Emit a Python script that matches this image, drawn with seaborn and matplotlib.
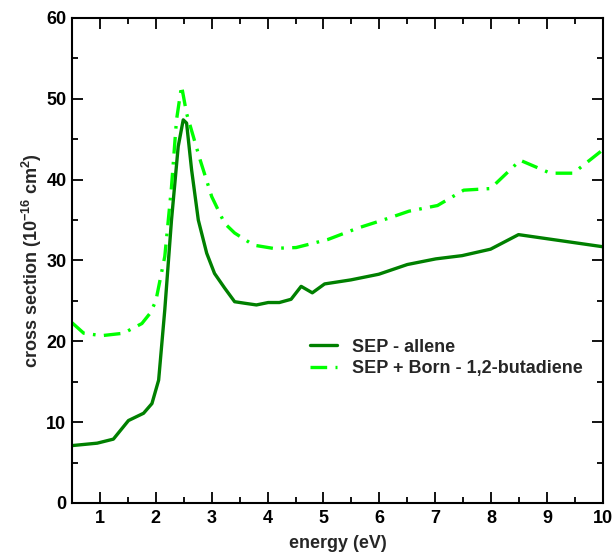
import matplotlib
matplotlib.use("Agg")
import matplotlib.pyplot as plt
import seaborn as sns
import pandas as pd
from matplotlib.ticker import MultipleLocator

# Data
allene_energy = [0.5, 0.95, 1.24, 1.51, 1.78, 1.93, 2.05, 2.16, 2.28, 2.40, 2.49, 2.55,
                 2.64, 2.76, 2.91, 3.05, 3.23, 3.41, 3.6, 3.80, 4.01, 4.21, 4.42, 4.60,
                 4.80, 5.02, 5.49, 5.99, 6.50, 7.01, 7.48, 7.99, 8.49, 10.0]
allene_cs = [7.1, 7.4, 7.9, 10.2, 11.1, 12.3, 15.2, 23.9, 35.0, 44.1, 47.4, 47.0,
             41.2, 35.0, 30.9, 28.4, 26.6, 24.9, 24.7, 24.5, 24.8, 24.8, 25.2, 26.8,
             26.0, 27.1, 27.6, 28.3, 29.5, 30.2, 30.6, 31.4, 33.2, 31.7]

butadiene_energy = [0.5, 0.71, 1.03, 1.42, 1.75, 1.90, 2.0, 2.16, 2.28, 2.37, 2.46, 2.55,
                    2.79, 3.0, 3.23, 3.41, 3.75, 4.1, 4.51, 5.08, 5.61, 6.15, 6.53, 7.04,
                    7.51, 7.99, 8.52, 9.06, 9.47, 10.0]
butadiene_cs = [22.3, 21.0, 20.7, 21.0, 22.2, 23.5, 25.0, 30.5, 39.1, 47.4, 51.6, 48.2,
                42.5, 37.9, 34.6, 33.4, 31.9, 31.5, 31.6, 32.6, 34.0, 35.2, 36.1, 36.8,
                38.7, 38.9, 42.4, 40.8, 40.8, 43.7]

labels = ["SEP - allene", "SEP + Born - 1,2-butadiene"]

sns.set_style("ticks")
plt.rcParams["font.family"] = ["Liberation Sans", "DejaVu Sans"]
plt.rcParams["font.weight"] = "bold"
plt.rcParams["mathtext.fontset"] = "custom"
plt.rcParams["mathtext.rm"] = "Liberation Sans:bold"
plt.rcParams["mathtext.bf"] = "Liberation Sans:bold"
plt.rcParams["mathtext.default"] = "bf"

FS = 13

fig = plt.figure(figsize=(6.13, 5.52), dpi=100)
ax = fig.add_axes([0.1175, 0.0888, 0.866, 0.8786])

df1 = pd.DataFrame({"energy": allene_energy, "cs": allene_cs})
df2 = pd.DataFrame({"energy": butadiene_energy, "cs": butadiene_cs})

sns.lineplot(data=df1, x="energy", y="cs", ax=ax, color="#008000", lw=2.4,
             label=labels[0], sort=False)
sns.lineplot(data=df2, x="energy", y="cs", ax=ax, color="#00ff00", lw=2.4,
             label=labels[1], sort=False)
ax.lines[1].set_dashes([5, 2.5, 0.8, 2.5])

ax.set_xlim(0.5, 10)
ax.set_ylim(0, 60)
ax.xaxis.set_major_locator(MultipleLocator(1))
ax.xaxis.set_minor_locator(MultipleLocator(0.5))
ax.yaxis.set_major_locator(MultipleLocator(10))
ax.yaxis.set_minor_locator(MultipleLocator(5))
ax.tick_params(which="both", direction="in", top=True, right=True, width=1.3,
               labelsize=FS, colors="black")
ax.tick_params(which="major", length=8)
ax.tick_params(which="minor", length=4)
ax.tick_params(axis="x", pad=5)
ax.tick_params(axis="y", pad=4)
for lab in ax.get_xticklabels() + ax.get_yticklabels():
    lab.set_fontweight("bold")
for s in ax.spines.values():
    s.set_linewidth(1.5)
    s.set_color("black")

ax.set_xlabel("energy (eV)", fontsize=FS, fontweight="bold", labelpad=6)
ax.set_ylabel(r"cross section (10$^{-16}$ cm$^{2}$)", fontsize=FS,
              fontweight="bold", labelpad=2)

leg = ax.legend(loc="center left", bbox_to_anchor=(0.448, 0.299), frameon=False,
                handlelength=1.5, fontsize=FS, labelspacing=0.25, handletextpad=0.85,
                borderpad=0, borderaxespad=0)
for t in leg.get_texts():
    t.set_fontweight("bold")

fig.savefig("out.png", dpi=100)
